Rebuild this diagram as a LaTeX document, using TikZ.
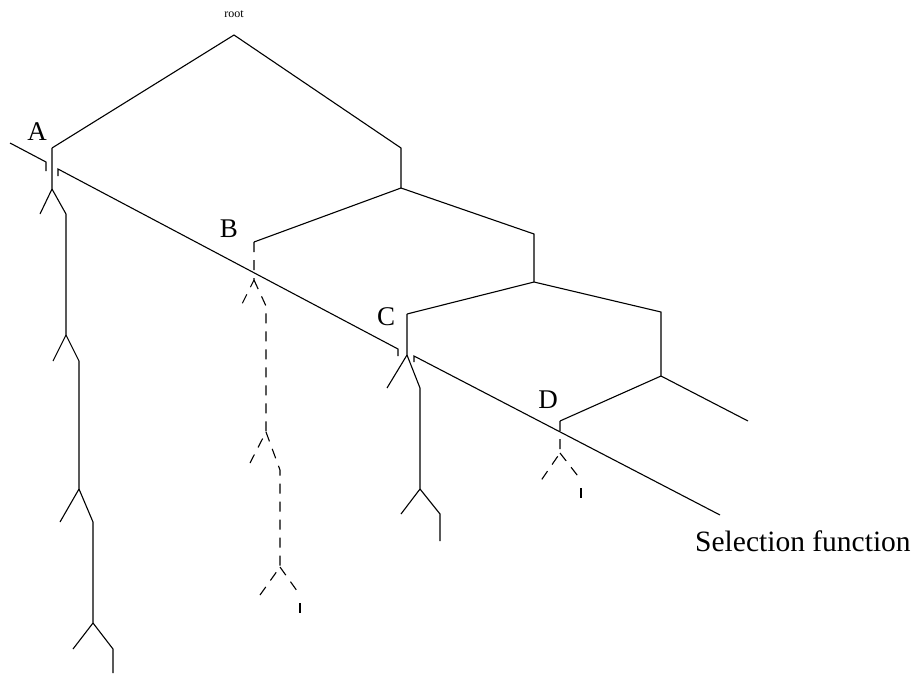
\documentclass[tikz,border=0pt]{standalone}
\usepackage{fontspec}
\setmainfont{Liberation Serif}
\usetikzlibrary{positioning}

\begin{document}
\begin{tikzpicture}[
  x=1pt, y=-1pt,
  edge/.style={line width=1.1pt},
  guess/.style={edge, dash pattern=on 10pt off 8pt},
  lbl/.style={font=\fontsize{27}{31}\selectfont, inner sep=0pt}]
\useasboundingbox (0,0) rectangle (915,673);
% tree points
\coordinate (root) at (234,35);
\coordinate (r1) at (401,148);  \coordinate (n1) at (401,188);
\coordinate (r2) at (534,234);  \coordinate (n2) at (534,282);
\coordinate (r3) at (661,312);  \coordinate (n3) at (661,376);
\coordinate (e)  at (748,421);
\coordinate (a) at (52,148);  \coordinate (b) at (254,242);
\coordinate (c) at (407,314); \coordinate (d) at (560,421);
% search chains
\coordinate (a1) at (52,189);  \coordinate (a1l) at (40,214);  \coordinate (a1r) at (66,214);
\coordinate (a2) at (66,335);  \coordinate (a2l) at (53,361);  \coordinate (a2r) at (79,361);
\coordinate (a3) at (79,489);  \coordinate (a3l) at (60,522);  \coordinate (a3r) at (93,522);
\coordinate (a4) at (93,623);  \coordinate (a4l) at (73,649);  \coordinate (a4r) at (113,649);
\coordinate (a4e) at (113,673);
\coordinate (b1) at (254,280); \coordinate (b1l) at (240,308); \coordinate (b1r) at (266,306);
\coordinate (b2) at (266,432); \coordinate (b2l) at (250,463); \coordinate (b2r) at (280,470);
\coordinate (b3) at (280,567); \coordinate (b3l) at (260,595); \coordinate (b3r) at (300,595);
\coordinate (b3e) at (300,615);
\coordinate (c1) at (407,355); \coordinate (c1l) at (387,388); \coordinate (c1r) at (420,388);
\coordinate (c2) at (420,489); \coordinate (c2l) at (401,514); \coordinate (c2r) at (440,514);
\coordinate (c2e) at (440,541);
\coordinate (d1) at (560,453); \coordinate (d1l) at (540,482); \coordinate (d1r) at (581,480);
\coordinate (d1e) at (581,502);
% selection line
\coordinate (s0) at (10,143);  \coordinate (s1) at (46,162);  \coordinate (s1t) at (46,171);
\coordinate (s2t) at (58,176); \coordinate (s2) at (58,169);  \coordinate (s3) at (398,349);
\coordinate (s3t) at (398,356); \coordinate (s4t) at (414,362); \coordinate (s4) at (414,356);
\coordinate (s5) at (720,515);

\node[font=\fontsize{12}{14}\selectfont, inner sep=0pt] (rootlbl) at (234,14) {root};
\node[lbl] (la) at (37,132) {A};
\node[lbl] (lb) at (229,229) {B};
\node[lbl] (lc) at (386,317) {C};
\node[lbl] (ld) at (548,400) {D};
\node[lbl, font=\fontsize{29.5}{33}\selectfont, anchor=west] (sel) at (695,541) {Selection function};

\draw[edge] (a) -- (root) -- (r1) -- (n1);
\draw[edge] (b) -- (n1) -- (r2) -- (n2);
\draw[edge] (c) -- (n2) -- (r3) -- (n3) -- (e);
\draw[edge] (d) -- (n3);

\draw[edge] (a) -- (a1) -- (a1l);
\draw[edge] (a1) -- (a1r) -- (a2) -- (a2l);
\draw[edge] (a2) -- (a2r) -- (a3) -- (a3l);
\draw[edge] (a3) -- (a3r) -- (a4) -- (a4l);
\draw[edge] (a4) -- (a4r) -- (a4e);

\draw[guess] (b) -- (b1) -- (b1l);
\draw[guess] (b1) -- (b1r) -- (b2) -- (b2l);
\draw[guess] (b2) -- (b2r) -- (b3) -- (b3l);
\draw[guess] (b3) -- (b3r);
\draw[guess, dash phase=10pt] (b3r) -- (b3e);

\draw[edge] (c) -- (c1) -- (c1l);
\draw[edge] (c1) -- (c1r) -- (c2) -- (c2l);
\draw[edge] (c2) -- (c2r) -- (c2e);

\draw[guess] (d) -- (d1) -- (d1l);
\draw[guess] (d1) -- (d1r);
\draw[guess, dash phase=10pt] (d1r) -- (d1e);

\draw[edge] (s0) -- (s1) -- (s1t);
\draw[edge] (s2t) -- (s2) -- (s3) -- (s3t);
\draw[edge] (s4t) -- (s4) -- (s5);
\end{tikzpicture}
\end{document}
